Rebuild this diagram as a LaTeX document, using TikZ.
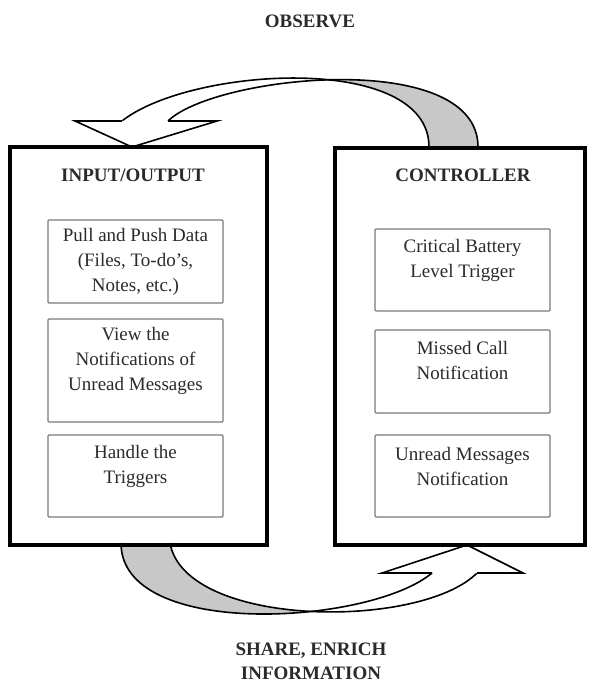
\documentclass[tikz,border=0pt]{standalone}
\usepackage{fontspec}
\setmainfont{Liberation Serif}
\definecolor{ribbongray}{HTML}{C8C8C8}
\definecolor{txt}{HTML}{2A2A2A}
\definecolor{innerline}{HTML}{7A7A7A}
\tikzset{
  outerbox/.style={draw=black, line width=3.6pt, rectangle, inner sep=0pt},
  innerbox/.style={draw=innerline, line width=1.3pt, rectangle, rounded corners=1pt, inner sep=0pt, minimum width=175pt},
  boxtext/.style={inner sep=0pt, align=center, text=txt, font=\fontsize{19}{25}\selectfont},
  titletext/.style={inner sep=0pt, align=center, text=txt, font=\fontsize{19}{24}\selectfont\bfseries},
  ribbonline/.style={draw=black, line width=1.6pt},
  headline/.style={draw=black, line width=1.6pt, line join=miter, fill=white}
}
\begin{document}
\begin{tikzpicture}[x=1pt,y=-1pt]
\useasboundingbox (0,0) rectangle (589,684);

% labels
\node[titletext] (observe) at (310,21) {OBSERVE};
\node[titletext] (share) at (311,661) {SHARE, ENRICH\\INFORMATION};

% ---------- top arrow ----------
\coordinate (a1) at (122,121);
\coordinate (a2) at (429,147);
\coordinate (b1) at (168,121);
\coordinate (b2) at (478,147);
\begin{scope}
  \clip (328,0) rectangle (589,200);
  \fill[ribbongray] (a1) .. controls (190,67) and (429,52) .. (a2) -- (b2)
        .. controls (478,48) and (215,75) .. (b1) -- cycle;
\end{scope}
\draw[ribbonline] (a1) .. controls (190,67) and (429,52) .. (a2);
\draw[ribbonline] (b1) .. controls (215,75) and (478,48) .. (b2);
\coordinate (th1) at (75,121);
\coordinate (th2) at (217,121);
\coordinate (ttip) at (132,147);
\draw[headline] (a1) -- (th1) -- (ttip) -- (th2) -- (b1);

% ---------- bottom arrow ----------
\coordinate (c1) at (121,543);
\coordinate (c2) at (432,573);
\coordinate (d1) at (170,543);
\coordinate (d2) at (477,573);
\begin{scope}
  \clip (0,500) rectangle (310,684);
  \fill[ribbongray] (c1) .. controls (121,640) and (370,625) .. (c2) -- (d2)
        .. controls (420,630) and (185,628) .. (d1) -- cycle;
\end{scope}
\draw[ribbonline] (c1) .. controls (121,640) and (370,625) .. (c2);
\draw[ribbonline] (d1) .. controls (185,628) and (420,630) .. (d2);
\coordinate (bh1) at (382,573);
\coordinate (bh2) at (523,573);
\coordinate (btip) at (467,545);
\draw[headline] (c2) -- (bh1) -- (btip) -- (bh2) -- (d2);

% ---------- boxes ----------
\node[outerbox, minimum width=257pt, minimum height=398pt] (io) at (138.5,346) {};
\node[outerbox, minimum width=250pt, minimum height=397pt] (ctrl) at (460,346.5) {};

\node[titletext] (iotitle) at (133,175) {INPUT/OUTPUT};
\node[titletext] (ctrltitle) at (463,175) {CONTROLLER};

\node[innerbox, minimum height=83pt] (io1) at (135.5,261.5) {};
\node[innerbox, minimum height=103pt] (io2) at (135.5,370.5) {};
\node[innerbox, minimum height=82pt] (io3) at (135.5,476) {};
\node[boxtext] (io1t) at (135.5,262) {Pull and Push Data\\(Files, To-do's,\\Notes, etc.)};
\node[boxtext] (io2t) at (135.5,361) {View the\\Notifications of\\Unread Messages};
\node[boxtext] (io3t) at (135.5,466) {Handle the\\Triggers};

\node[innerbox, minimum height=82pt] (c1b) at (462.5,270) {};
\node[innerbox, minimum height=83pt] (c2b) at (462.5,371.5) {};
\node[innerbox, minimum height=82pt] (c3b) at (462.5,476) {};
\node[boxtext] (c1t) at (462.5,260) {Critical Battery\\Level Trigger};
\node[boxtext] (c2t) at (462.5,360) {Missed Call\\Notification};
\node[boxtext] (c3t) at (462.5,466) {Unread Messages\\Notification};
\end{tikzpicture}
\end{document}
